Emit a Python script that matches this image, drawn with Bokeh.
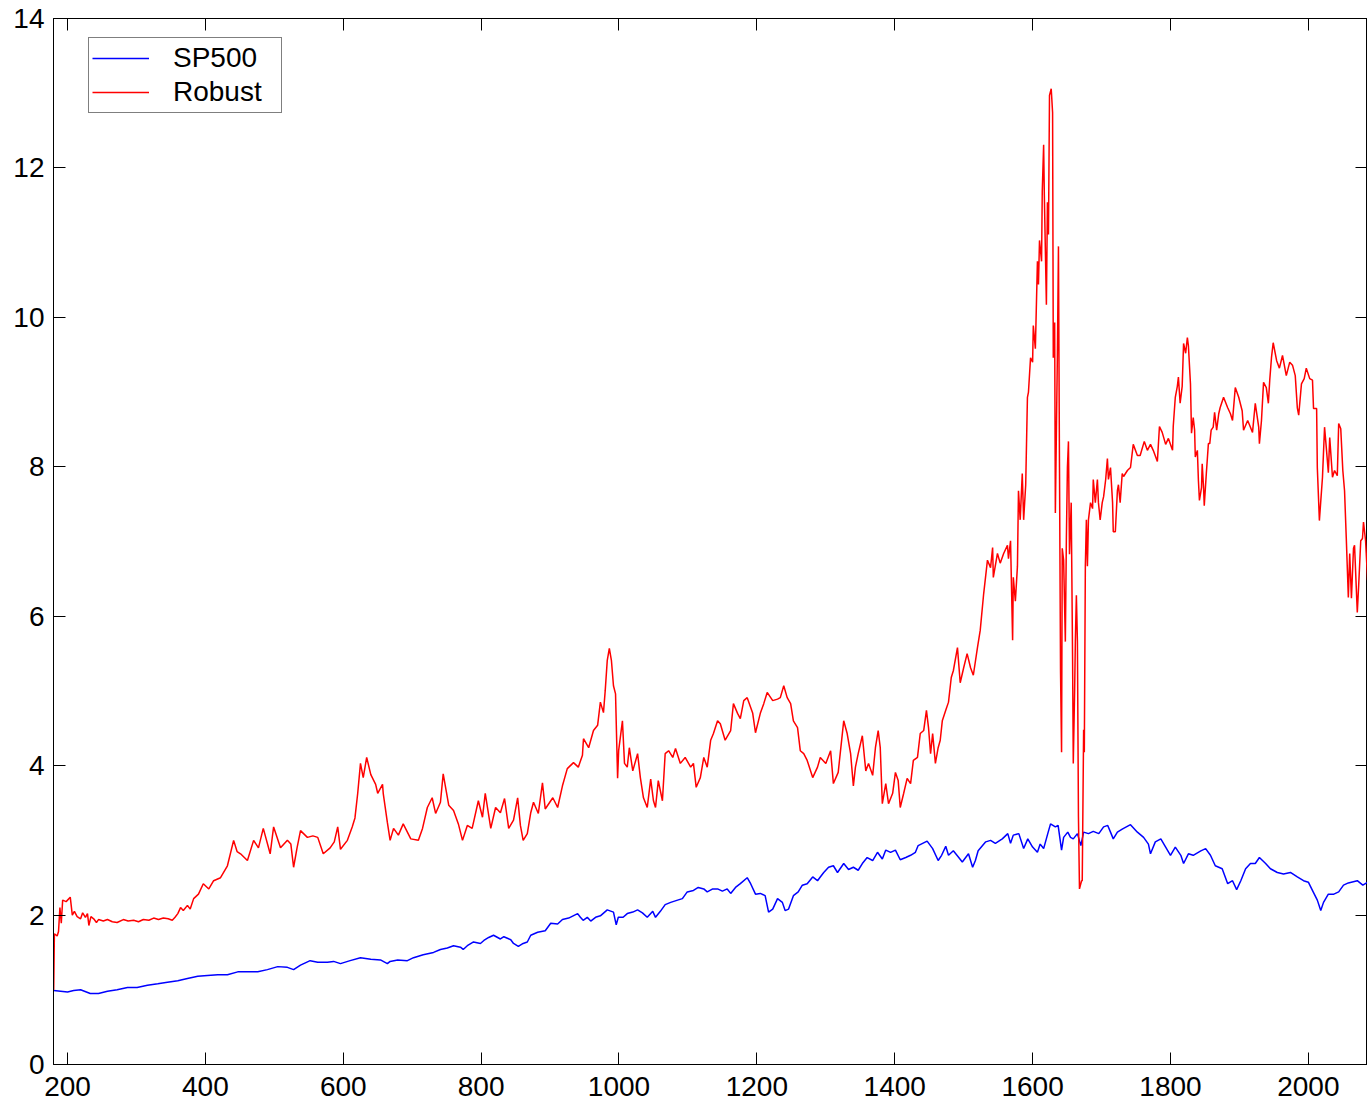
from bokeh.plotting import figure
from bokeh.models import Range1d, LinearAxis, FixedTicker, Legend, LegendItem
from bokeh.embed import file_html
from bokeh.resources import INLINE

# ---------------- data ----------------
robust_x = [180, 181, 185, 187, 189, 191, 193, 198, 204, 207, 210, 214, 219, 222, 226, 229, 231, 234, 238, 242,
            245, 252, 258, 265, 272, 281, 288, 296, 303, 310, 318, 325, 332, 339, 346, 352, 356, 360, 364, 368,
            374, 378, 383, 390, 397, 405, 412, 422, 432, 441, 446, 451, 461, 470, 477, 484, 494, 499, 509, 519,
            524, 528, 533, 538, 548, 556, 563, 571, 581, 587, 592, 596, 606, 613, 617, 621, 625, 629, 634, 640,
            647, 650, 657, 658, 664, 668, 673, 680, 687, 698, 709, 715, 722, 729, 734, 741, 745, 753, 760, 767,
            773, 780, 787, 796, 802, 806, 814, 821, 828, 834, 840, 847, 853, 857, 861, 867, 872, 876, 883, 889,
            893, 904, 911, 918, 925, 934, 941, 947, 948.5, 956, 963, 969, 973, 977.5, 980, 983, 986, 989, 992, 995,
            998, 999.5, 1005, 1008, 1012, 1015, 1020, 1027, 1031, 1035.5, 1041, 1046, 1050, 1053, 1057, 1063, 1067,
            1072, 1078, 1082, 1089, 1096, 1104, 1108, 1112, 1118, 1123, 1128, 1133, 1137, 1143, 1147, 1154, 1162,
            1166, 1172, 1176, 1181, 1186, 1194, 1198, 1205, 1210, 1215, 1223, 1230, 1234, 1239, 1244, 1249, 1253,
            1259, 1263, 1268, 1273, 1281, 1288, 1292, 1300, 1307, 1311, 1318, 1326, 1331, 1336, 1340, 1343, 1347,
            1353, 1358, 1362, 1368, 1372, 1376, 1379, 1382, 1387, 1391, 1397, 1401, 1405, 1408, 1413, 1418, 1423,
            1427, 1433, 1437, 1442, 1446, 1449, 1452, 1455, 1459, 1463, 1466, 1469, 1474, 1478, 1482, 1485, 1491,
            1495, 1500, 1505, 1510, 1514, 1520, 1524, 1529, 1534.5, 1539, 1542, 1543, 1549, 1553, 1558, 1563.5,
            1565, 1568, 1571, 1572, 1575, 1578, 1579.5, 1582, 1585, 1587, 1590, 1592.5, 1594, 1597, 1600, 1601,
            1604, 1607, 1608.5, 1610, 1613, 1614, 1616, 1617, 1620, 1621.5, 1623, 1624.5, 1627, 1629, 1630, 1632,
            1633, 1636, 1637.5, 1639, 1640.5, 1642, 1643, 1645, 1647.5, 1649, 1650.5, 1652, 1653.5, 1656, 1658,
            1659, 1661, 1662, 1663.5, 1665, 1666.5, 1668, 1671, 1672, 1674, 1675, 1676.5, 1678, 1679.5, 1681,
            1684, 1687, 1688, 1691, 1694, 1695.5, 1698, 1701, 1703, 1706, 1708.5, 1710, 1713, 1716, 1717, 1720,
            1723, 1724.5, 1727, 1730, 1732, 1737.5, 1742, 1746, 1752, 1756, 1762, 1766.5, 1771, 1775, 1781, 1784,
            1788, 1793, 1797, 1803, 1804, 1807, 1810, 1811.5, 1814, 1817, 1819, 1822, 1824.5, 1826, 1829, 1830.5,
            1833, 1835, 1836, 1839, 1840.5, 1842, 1845, 1846, 1848, 1849, 1852, 1855, 1857, 1859, 1862, 1864,
            1867, 1870, 1872, 1877, 1883, 1887, 1890, 1894, 1899, 1904, 1906, 1912, 1916, 1919, 1923, 1928, 1929,
            1932, 1935, 1939, 1942, 1944, 1946.5, 1949, 1954, 1958, 1962.5, 1968, 1973, 1977, 1981, 1984, 1986,
            1990, 1994, 1997, 2002, 2006, 2007.5, 2012, 2013, 2016, 2020.5, 2023.5, 2026, 2029, 2031, 2035, 2038,
            2042, 2044, 2047, 2050, 2052.5, 2055, 2058, 2060, 2062.5, 2065.5, 2067, 2071, 2073, 2076, 2078.5,
            2080, 2083, 2086]
robust_y = [1.00, 1.75, 1.72, 1.78, 2.10, 1.89, 2.20, 2.18, 2.24, 2.00, 2.05, 1.98, 1.95, 2.03, 1.97, 2.02, 1.86, 1.98, 1.95, 1.90,
            1.94, 1.92, 1.94, 1.91, 1.90, 1.94, 1.92, 1.93, 1.91, 1.94, 1.93, 1.96, 1.94, 1.96, 1.95, 1.93, 1.97, 2.02, 2.10, 2.06,
            2.13, 2.08, 2.22, 2.28, 2.42, 2.35, 2.46, 2.50, 2.66, 3.00, 2.85, 2.82, 2.73, 3.00, 2.90, 3.16, 2.82, 3.18, 2.90, 3.00,
            2.95, 2.64, 2.90, 3.13, 3.04, 3.06, 3.04, 2.82, 2.90, 2.98, 3.18, 2.88, 3.00, 3.18, 3.30, 3.63, 4.03, 3.84, 4.11, 3.88,
            3.75, 3.63, 3.75, 3.63, 3.24, 3.00, 3.16, 3.07, 3.22, 3.02, 3.00, 3.16, 3.44, 3.57, 3.36, 3.51, 3.89, 3.47, 3.40, 3.22,
            3.00, 3.20, 3.16, 3.53, 3.31, 3.63, 3.16, 3.44, 3.37, 3.56, 3.16, 3.27, 3.57, 3.20, 3.00, 3.09, 3.37, 3.51, 3.36, 3.77,
            3.42, 3.57, 3.44, 3.73, 3.96, 4.04, 3.98, 4.14, 4.36, 4.24, 4.47, 4.54, 4.85, 4.71, 5.00, 5.41, 5.57, 5.41, 5.07, 4.96,
            3.83, 4.20, 4.60, 4.03, 3.98, 4.24, 3.93, 4.16, 3.84, 3.57, 3.44, 3.82, 3.53, 3.44, 3.80, 3.53, 4.16,
            4.20, 4.11, 4.23, 4.03, 4.11, 3.98, 4.03, 3.71, 3.84, 4.11, 3.98, 4.34, 4.43, 4.60, 4.56, 4.34, 4.47,
            4.83, 4.70, 4.63, 4.87, 4.91, 4.70, 4.44, 4.70, 4.83, 4.98, 4.87, 4.89, 4.91, 5.07, 4.91, 4.83, 4.60,
            4.51, 4.20, 4.16, 4.07, 3.84, 3.98, 4.11, 4.03, 4.20, 3.76, 3.91, 4.60, 4.43, 4.16, 3.73, 3.98, 4.16,
            4.40, 3.93, 4.03, 3.87, 4.24, 4.47, 4.24, 3.49, 3.76, 3.49, 3.63, 3.91, 3.80, 3.44, 3.63, 3.83, 3.76,
            4.07, 4.11, 4.43, 4.47, 4.74, 4.51, 4.16, 4.43, 4.03, 4.24, 4.34, 4.60, 4.74, 4.85, 5.18, 5.27, 5.58,
            5.11, 5.31, 5.50, 5.31, 5.21, 5.58, 5.81, 6.30, 6.75, 6.65, 6.92, 6.52, 6.84, 6.71, 6.84, 6.95,
            6.77, 7.01, 5.68, 6.52, 6.20, 6.67, 7.68, 7.29, 7.91, 7.29, 7.76, 8.93, 9.00, 9.46, 9.40, 9.89,
            9.58, 10.75, 10.44, 11.03, 10.75, 11.68, 12.31, 11.64, 10.17, 11.54, 11.11, 12.97, 13.06, 12.74, 9.46, 9.93,
            7.38, 9.54, 10.95, 7.99, 5.27, 4.18, 6.91, 6.75, 5.66, 7.05, 7.99, 8.34, 6.83, 7.52, 5.42,
            4.03, 5.03, 5.66, 6.28, 5.66, 3.32, 2.35, 2.46, 2.46, 4.48, 4.18, 6.67, 7.29, 6.67, 7.29,
            7.52, 7.44, 7.83, 7.52, 7.83, 7.52, 7.29, 7.52, 7.60, 7.83, 8.11, 7.83, 7.99, 7.52, 7.13, 7.13,
            7.68, 7.76, 7.52, 7.91, 7.87, 7.95, 7.99, 8.30, 8.15, 8.15, 8.34, 8.22, 8.30, 8.22, 8.07, 8.54,
            8.46, 8.30, 8.38, 8.22, 8.54, 8.93, 9.08, 9.20, 8.85, 9.08, 9.65, 9.52, 9.73, 9.62, 9.11, 8.45,
            8.66, 8.49, 8.13, 8.22, 7.82, 7.55, 7.72, 8.04, 7.72, 7.48, 7.91, 8.31, 8.31, 8.49, 8.53, 8.73,
            8.49, 8.71, 8.79, 8.93, 8.79, 8.71, 8.62, 9.06, 8.93, 8.75, 8.49, 8.62, 8.53, 8.46, 8.85, 8.53, 8.31,
            8.62, 9.13, 9.06, 8.85, 9.16, 9.46, 9.66, 9.42, 9.32, 9.49, 9.22, 9.40, 9.36, 9.22, 8.79, 8.69,
            9.11, 9.18, 9.32, 9.18, 9.16, 8.78, 8.78, 7.99, 7.28, 7.86, 8.53, 8.26, 7.92, 8.39, 7.86, 7.95,
            7.88, 8.58, 8.51, 7.95, 7.68, 7.05, 6.25, 6.84, 6.24, 6.91, 6.95, 6.05, 6.41, 7.01, 7.04,
            7.26, 7.01, 6.48]

sp500_x = [180, 190, 200, 209, 219, 233, 245, 258, 272, 287, 301, 316, 331, 345, 360, 374, 389, 403, 418, 432,
           447, 461, 476, 490, 505, 519, 528, 538, 552, 563, 577, 586, 596, 610, 625, 640, 654, 664, 668, 679,
           693, 702, 716, 731, 741, 751, 760, 770, 774, 780, 789, 799, 804, 811, 818, 824, 828, 833, 843, 847,
           854, 861, 867, 872, 882, 893, 901, 911, 918, 927, 940, 944, 948, 954, 959, 966, 973, 983, 992, 996,
           999, 1006, 1012, 1020, 1027, 1034, 1041, 1049, 1053, 1060, 1067, 1075, 1085, 1092, 1099, 1108, 1115,
           1123, 1128, 1136, 1143, 1150, 1157, 1162, 1169, 1176, 1186, 1191, 1198, 1205, 1212, 1217, 1223, 1230,
           1237, 1241, 1246, 1253, 1260, 1266, 1273, 1281, 1288, 1292, 1297, 1304, 1311, 1317, 1326, 1333, 1340,
           1347, 1353, 1360, 1368, 1375, 1382, 1387, 1394, 1401, 1408, 1416, 1423, 1430, 1434, 1447, 1455, 1463,
           1468, 1474, 1478, 1485, 1492, 1498, 1507, 1513, 1517, 1521, 1532, 1539, 1546, 1556, 1564, 1568, 1572,
           1580, 1587, 1593, 1600, 1607, 1611, 1616, 1622, 1626, 1633, 1637, 1642, 1645, 1651, 1655, 1659, 1665,
           1670, 1674, 1681, 1688, 1696, 1703, 1709, 1713, 1717, 1723, 1730, 1742, 1752, 1761, 1768, 1771, 1778,
           1786, 1793, 1800, 1807, 1815, 1819, 1826, 1833, 1844, 1851, 1858, 1865, 1875, 1883, 1890, 1896, 1902,
           1909, 1916, 1923, 1929, 1938, 1945, 1955, 1964, 1974, 1984, 1993, 2000, 2007, 2013, 2018, 2022, 2029,
           2037, 2044, 2051, 2058, 2071, 2079, 2086]
sp500_y = [0.99, 0.98, 0.97, 0.99, 1.00, 0.95, 0.95, 0.98, 1.00, 1.03, 1.03, 1.06, 1.08, 1.10, 1.12, 1.15, 1.18, 1.19, 1.20, 1.20,
           1.24, 1.24, 1.24, 1.27, 1.31, 1.30, 1.27, 1.33, 1.39, 1.37, 1.37, 1.38, 1.35, 1.39, 1.43, 1.41, 1.40, 1.35, 1.38, 1.40,
           1.39, 1.43, 1.47, 1.50, 1.54, 1.56, 1.59, 1.57, 1.54, 1.59, 1.64, 1.62, 1.66, 1.70, 1.73, 1.70, 1.68, 1.71, 1.67, 1.62,
           1.58, 1.62, 1.64, 1.73, 1.77, 1.79, 1.89, 1.88, 1.94, 1.96, 2.02, 1.97, 1.93, 1.97, 1.92, 1.97, 1.99, 2.07, 2.04, 1.87,
           1.97, 1.97, 2.02, 2.04, 2.07, 2.03, 1.97, 2.05, 1.97, 2.05, 2.14, 2.17, 2.20, 2.22, 2.31, 2.33, 2.37,
           2.35, 2.31, 2.35, 2.35, 2.32, 2.35, 2.29, 2.37, 2.42, 2.50, 2.42, 2.28, 2.29, 2.26, 2.04, 2.08, 2.22,
           2.17, 2.06, 2.08, 2.26, 2.31, 2.40, 2.42, 2.51, 2.46, 2.51, 2.57, 2.64, 2.66, 2.57, 2.69, 2.61, 2.64,
           2.60, 2.69, 2.77, 2.73, 2.84, 2.75, 2.87, 2.84, 2.87, 2.74, 2.77, 2.80, 2.84, 2.93, 2.99, 2.89, 2.73,
           2.80, 2.92, 2.80, 2.86, 2.78, 2.71, 2.82, 2.64, 2.73, 2.86, 2.98, 3.00, 2.96, 3.02, 3.09, 2.96, 3.07,
           3.09, 2.89, 3.02, 2.91, 2.84, 2.95, 2.89, 3.09, 3.22, 3.18, 3.20, 2.87, 3.04, 3.11, 3.04, 3.02, 3.09,
           2.93, 3.11, 3.09, 3.12, 3.09, 3.18, 3.20, 3.11, 3.02, 3.11, 3.15, 3.21, 3.11, 3.04, 2.95, 2.82, 2.98,
           3.02, 2.91, 2.80, 2.91, 2.80, 2.69, 2.82, 2.80, 2.86, 2.89, 2.80, 2.66, 2.62, 2.42, 2.46, 2.34, 2.46,
           2.62, 2.69, 2.69, 2.77, 2.69, 2.62, 2.57, 2.55, 2.57, 2.51, 2.46, 2.44, 2.31, 2.20, 2.06, 2.17, 2.28,
           2.28, 2.31, 2.40, 2.43, 2.46, 2.40, 2.44]

x_ticks = [200, 400, 600, 800, 1000, 1200, 1400, 1600, 1800, 2000]
y_ticks = [0, 2, 4, 6, 8, 10, 12, 14]
legend_labels = ["SP500", "Robust"]

FONT = "Liberation Sans"
FS = "28px"

p = figure(width=1367, height=1107, output_backend="svg", toolbar_location=None,
           x_range=Range1d(179.7, 2085.8), y_range=Range1d(0, 14),
           x_axis_type=None, y_axis_type=None,
           min_border_left=53, min_border_top=18, min_border_right=0, min_border_bottom=43)
p.background_fill_color = "white"
p.border_fill_color = "white"
p.outline_line_color = "black"
p.outline_line_width = 1
p.xgrid.visible = False
p.ygrid.visible = False


def make_axis(ticks, labels, standoff=10):
    ax = LinearAxis(ticker=FixedTicker(ticks=ticks))
    ax.major_tick_in = 12
    ax.major_tick_out = 0
    ax.minor_tick_line_color = None
    ax.axis_line_color = "black"
    ax.major_tick_line_color = "black"
    ax.major_tick_line_width = 1
    ax.major_label_text_font = FONT
    ax.major_label_text_font_size = FS
    ax.major_label_text_color = "black"
    if labels:
        ax.major_label_standoff = standoff
    else:
        ax.major_label_overrides = {t: "" for t in ticks}
        ax.major_label_standoff = 0
    return ax


p.add_layout(make_axis(x_ticks, True, 12), "below")
p.add_layout(make_axis(y_ticks, True, 9), "left")
p.add_layout(make_axis(x_ticks, False), "above")
p.add_layout(make_axis(y_ticks, False), "right")

r_sp = p.line(sp500_x, sp500_y, line_color="#0000FF", line_width=1.5)
r_rb = p.line(robust_x, robust_y, line_color="#FF0000", line_width=1.5)

legend = Legend(items=[LegendItem(label=legend_labels[0], renderers=[r_sp]),
                       LegendItem(label=legend_labels[1], renderers=[r_rb])],
                location=(35, 951))
legend.border_line_color = "black"
legend.border_line_width = 1.3
legend.background_fill_color = "white"
legend.background_fill_alpha = 1
legend.label_text_font = FONT
legend.label_text_font_size = FS
legend.label_text_color = "black"
legend.glyph_width = 57
legend.glyph_height = 34
legend.label_height = 34
legend.label_width = 105
legend.label_standoff = 24
legend.padding = 3
legend.spacing = 0
legend.margin = 0
p.add_layout(legend)

open("out.html", "w").write(file_html(p, INLINE))
